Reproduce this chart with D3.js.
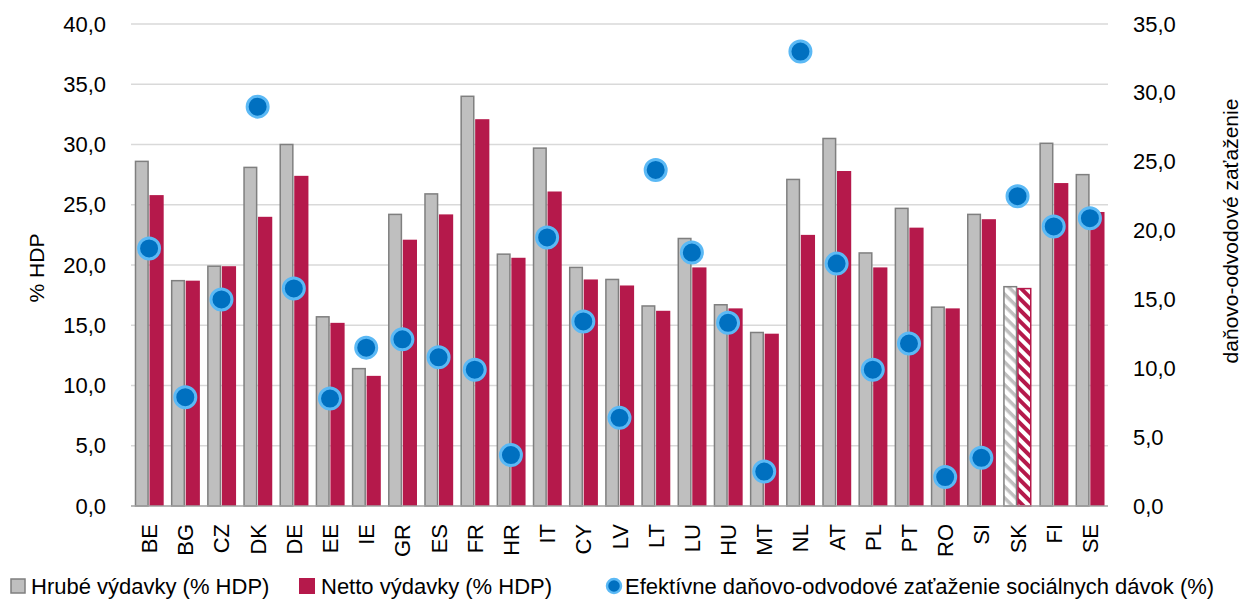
<!DOCTYPE html>
<html><head><meta charset="utf-8">
<script src="https://cdn.jsdelivr.net/npm/d3@7"></script>
<style>
html,body{margin:0;padding:0;background:#fff;}
text{font-family:"Liberation Sans",Arial,sans-serif;fill:#000;}
</style></head>
<body><svg id="c" width="1252" height="603"></svg>
<script>
const categories = ["BE","BG","CZ","DK","DE","EE","IE","GR","ES","FR","HR","IT","CY","LV","LT","LU","HU","MT","NL","AT","PL","PT","RO","SI","SK","FI","SE"];
const grossSpending = [28.6,18.7,19.9,28.1,30.0,15.7,11.4,24.2,25.9,34.0,20.9,29.7,19.8,18.8,16.6,22.2,16.7,14.4,27.1,30.5,21.0,24.7,16.5,24.2,18.2,30.1,27.5];
const netSpending = [25.8,18.7,19.9,24.0,27.4,15.2,10.8,22.1,24.2,32.1,20.6,26.1,18.8,18.3,16.2,19.8,16.4,14.3,22.5,27.8,19.8,23.1,16.4,23.8,18.1,26.8,24.4];
const taxBurden = [18.7,7.9,15.0,29.0,15.8,7.8,11.5,12.1,10.8,9.9,3.7,19.5,13.4,6.4,24.4,18.4,13.3,2.5,33.0,17.6,9.9,11.8,2.1,3.5,22.5,20.3,20.9];
const leftTicks = [0,5,10,15,20,25,30,35,40];
const rightTicks = [0,5,10,15,20,25,30,35];
const hatchedCategory = "SK";
const seriesNames = ["Hrubé výdavky (% HDP)","Netto výdavky (% HDP)","Efektívne daňovo-odvodové zaťaženie sociálnych dávok (%)"];
const leftTitle = "% HDP";
const rightTitle = "daňovo-odvodové zaťaženie";

const GRAY = "#BFBFBF", GRAY_STROKE = "#7F7F7F", RED = "#B5194B", BLUE = "#0070C0", BLUE_STROKE = "#5BB9F5";
const svg = d3.select("#c");
const L = 131, R = 1108, T = 24, B = 506;
const loc = d3.formatLocale({decimal:",", thousands:" ", grouping:[3], currency:["","€"]});
const fmt = loc.format(".1f");

const x = d3.scaleBand().domain(categories).range([L, R]).padding(0);
const yL = d3.scaleLinear().domain([0,40]).range([B, T]);
const yR = d3.scaleLinear().domain([0,35]).range([B, T]);

// patterns
const defs = svg.append("defs");
function hatch(id, color, sw){
  const p = defs.append("pattern").attr("id", id).attr("patternUnits","userSpaceOnUse")
    .attr("width", 8).attr("height", 8).attr("patternTransform","rotate(45)");
  p.append("rect").attr("width",8).attr("height",8).attr("fill","#fff");
  p.append("rect").attr("x",0).attr("y",0).attr("width",8).attr("height",sw).attr("fill",color);
}
hatch("hg", GRAY, 3.5);
hatch("hr", RED, 4);

// gridlines
svg.append("g").selectAll("line").data(leftTicks.filter(d=>d>0)).join("line")
  .attr("x1", L).attr("x2", R).attr("y1", d=>yL(d)).attr("y2", d=>yL(d))
  .attr("stroke","#D9D9D9").attr("stroke-width",1.5);

const bw = x.bandwidth();
const data = categories.map((c,i)=>({c, g:grossSpending[i], n:netSpending[i], t:taxBurden[i]}));

// gross bars
svg.append("g").selectAll("rect").data(data).join("rect")
  .attr("x", d => x(d.c) + bw/2 - 13.6)
  .attr("width", 12.6)
  .attr("y", d => yL(d.g))
  .attr("height", d => B - yL(d.g))
  .attr("fill", d => d.c === hatchedCategory ? "url(#hg)" : GRAY)
  .attr("stroke", GRAY_STROKE).attr("stroke-width", 1.5);

// net bars
svg.append("g").selectAll("rect").data(data).join("rect")
  .attr("x", d => x(d.c) + bw/2 + 0.4)
  .attr("width", d => d.c === hatchedCategory ? 12.8 : 14.2)
  .attr("y", d => yL(d.n) + (d.c === hatchedCategory ? 0.7 : 0))
  .attr("height", d => B - yL(d.n) - (d.c === hatchedCategory ? 0.7 : 0))
  .attr("fill", d => d.c === hatchedCategory ? "url(#hr)" : RED)
  .attr("stroke", d => d.c === hatchedCategory ? RED : "none").attr("stroke-width", 1.5);

// baseline
svg.append("line").attr("x1", L).attr("x2", R).attr("y1", B).attr("y2", B)
  .attr("stroke","#A0A0A0").attr("stroke-width",1.5);

// dots
svg.append("g").selectAll("circle").data(data).join("circle")
  .attr("cx", d => x(d.c) + bw/2)
  .attr("cy", d => yR(d.t))
  .attr("r", 10.5)
  .attr("fill", BLUE).attr("stroke", BLUE_STROKE).attr("stroke-width", 3);

// left axis
const axL = svg.append("g").attr("transform", `translate(${L - 25},0)`)
  .call(d3.axisLeft(yL).tickValues(leftTicks).tickFormat(fmt).tickSize(0).tickPadding(0));
axL.select(".domain").remove();
axL.selectAll("text").attr("font-size", 22).attr("font-family", '"Liberation Sans",Arial,sans-serif').attr("fill","#000");

// right axis
const axR = svg.append("g").attr("transform", `translate(${R + 25},0)`)
  .call(d3.axisRight(yR).tickValues(rightTicks).tickFormat(fmt).tickSize(0).tickPadding(0));
axR.select(".domain").remove();
axR.selectAll("text").attr("font-size", 22).attr("font-family", '"Liberation Sans",Arial,sans-serif').attr("fill","#000");

// x labels
svg.append("g").selectAll("text").data(categories).join("text")
  .attr("transform", d => `translate(${x(d) + bw/2 + 8},524) rotate(-90)`)
  .attr("text-anchor","end").attr("font-size", 22).text(d => d);

// axis titles
svg.append("text").attr("transform", `translate(44,268) rotate(-90)`)
  .attr("text-anchor","middle").attr("font-size", 21).text(leftTitle);
svg.append("text").attr("transform", `translate(1238,231) rotate(-90)`)
  .attr("text-anchor","middle").attr("font-size", 21).text(rightTitle);

// legend
const lg = svg.append("g");
const LY = 594;
lg.append("rect").attr("x", 11).attr("y", 579).attr("width", 14).attr("height", 14)
  .attr("fill", GRAY).attr("stroke", GRAY_STROKE).attr("stroke-width", 1.5);
lg.append("text").attr("x", 31).attr("y", LY).attr("font-size", 22).text(seriesNames[0]);
lg.append("rect").attr("x", 299).attr("y", 578).attr("width", 16).attr("height", 16).attr("fill", RED);
lg.append("text").attr("x", 321).attr("y", LY).attr("font-size", 22).text(seriesNames[1]);
lg.append("circle").attr("cx", 614).attr("cy", 586).attr("r", 7)
  .attr("fill", BLUE).attr("stroke", BLUE_STROKE).attr("stroke-width", 2.5);
lg.append("text").attr("x", 625).attr("y", LY).attr("font-size", 22).text(seriesNames[2]);
</script></body></html>
